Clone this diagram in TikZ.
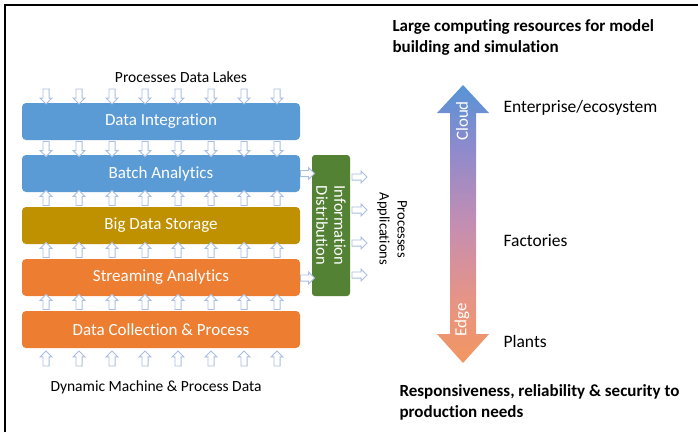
\documentclass[tikz,border=0pt]{standalone}
\usepackage{fontspec}
\setmainfont{Carlito}[Ligatures=NoCommon]
\usetikzlibrary{shapes.arrows}
\definecolor{dblue}{RGB}{91,155,213}
\definecolor{dgold}{RGB}{191,144,0}
\definecolor{dorange}{RGB}{237,125,49}
\definecolor{dgreen}{RGB}{84,130,53}
\definecolor{arrline}{RGB}{170,190,225}
\definecolor{cloudtop}{RGB}{86,148,214}
\definecolor{edgeup}{RGB}{140,138,205}
\definecolor{edgemid}{RGB}{196,142,178}
\definecolor{edgelow}{RGB}{232,148,132}
\definecolor{edgebot}{RGB}{242,150,96}
\pgfdeclareverticalshading{cloudedge}{100bp}{color(0bp)=(edgebot); color(25bp)=(edgebot);
  color(36bp)=(edgelow); color(50bp)=(edgemid); color(64bp)=(edgeup);
  color(75bp)=(cloudtop); color(100bp)=(cloudtop)}
\tikzset{
  layer/.style={fill=#1, rounded corners=4pt, minimum width=278pt,
    minimum height=37pt, text=white, font=\fontsize{17}{20}\selectfont},
  flowarr/.style={single arrow, draw=arrline, fill=white, line width=0.9pt,
    minimum height=15pt, inner sep=2.6pt, single arrow head extend=2.8pt,
    single arrow head indent=0pt},
  sidelabel/.style={anchor=west, font=\fontsize{17.5}{20}\selectfont},
  note/.style={anchor=north west, align=left, font=\bfseries\fontsize{17}{21}\selectfont},
}
\begin{document}
\begin{tikzpicture}[x=1pt,y=1pt]
\useasboundingbox (0,0) rectangle (698,-432);
\draw[line width=1.2pt] (5,-432) -- (5,-5) -- (698,-5);

% data layers
\node[layer=dblue] (integ) at (161,-121.5) {Data Integration};
\node[layer=dblue] (batch) at (161,-173.5) {Batch Analytics};
\node[layer=dgold] (store) at (161,-225.5) {Big Data Storage};
\node[layer=dorange] (stream) at (161,-277.5) {Streaming Analytics};
\node[layer=dorange] (collect) at (161,-329.5) {Data Collection \& Process};

\node[font=\fontsize{15.5}{18}\selectfont] (lakes) at (181,-77) {Processes Data Lakes};
\node[font=\fontsize{15.5}{18}\selectfont] (machine) at (156,-387) {Dynamic Machine \& Process Data};

% small flow arrows
\foreach \x [count=\i] in {46,79,112,145,178,211,244,277}{
  \node[flowarr, rotate=-90] (in\i) at (\x,-95) {};
  \node[flowarr, rotate=-90] (ib\i) at (\x,-147.5) {};
  \node[flowarr, rotate=90] (bs\i) at (\x,-199.5) {};
  \node[flowarr, rotate=90] (ss\i) at (\x,-251.5) {};
  \node[flowarr, rotate=90] (sc\i) at (\x,-303.5) {};
  \node[flowarr, rotate=90] (cd\i) at (\x,-360) {};
}

% information distribution
\node[fill=dgreen, rounded corners=3pt, rotate=-90, minimum width=141pt,
  minimum height=38pt, align=center, text=white,
  font=\fontsize{16.5}{18}\selectfont] (distr) at (331,-225.5) {Information\\Distribution};
\node[flowarr, minimum height=14pt] (tob) at (306,-173.5) {};
\node[flowarr, minimum height=14pt] (tos) at (306,-278) {};
\foreach \y [count=\i] in {177,210,243,275}
  \node[flowarr] (out\i) at (358,-\y) {};
\node[rotate=-90, align=center, font=\fontsize{14.5}{18}\selectfont] (apps) at (392,-229) {Processes\\Applications};

% cloud / edge arrow
\shade[shading=cloudedge]
  (463,-85) -- (489,-113) -- (476,-113) -- (476,-334) -- (489,-334)
  -- (463,-363) -- (437,-334) -- (450,-334) -- (450,-113) -- (437,-113) -- cycle;
\node[rotate=90, text=white, font=\fontsize{17}{20}\selectfont] (cloud) at (462,-121) {Cloud};
\node[rotate=90, text=white, font=\fontsize{17}{20}\selectfont] (edge) at (462,-320) {Edge};

\node[sidelabel] (ent) at (500,-108) {Enterprise/ecosystem};
\node[sidelabel] (fac) at (500,-241) {Factories};
\node[sidelabel] (pla) at (500,-341) {Plants};

\node[note] (large) at (389,-16) {Large computing resources for model\\building and simulation};
\node[note] (resp) at (396,-381) {Responsiveness, reliability \& security to\\production needs};
\end{tikzpicture}
\end{document}
